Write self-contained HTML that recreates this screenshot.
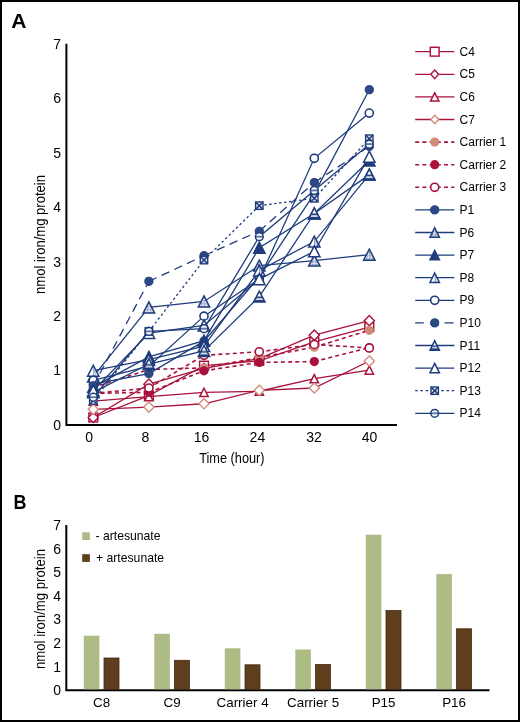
<!DOCTYPE html>
<html><head><meta charset="utf-8"><style>
html,body{margin:0;padding:0;background:#fff;}
body{width:520px;height:722px;overflow:hidden;}
svg{display:block;will-change:transform;}
text{font-family:"Liberation Sans",sans-serif;fill:#000;}
</style></head><body>
<svg width="520" height="722" viewBox="0 0 520 722">
<defs>
<pattern id="hatch" width="1.5" height="1.5" patternUnits="userSpaceOnUse"><rect width="1.5" height="1.5" fill="#dde2ec"/><rect width="0.75" height="0.75" fill="#5d6f9a"/></pattern>
<pattern id="vstr" width="1" height="1" patternContentUnits="objectBoundingBox"><rect width="1" height="1" fill="#fff"/><rect x="0.5" width="0.1" height="1" fill="#6f84b0"/><rect x="0.68" width="0.08" height="1" fill="#b0bdd6"/></pattern>
<pattern id="hstr" width="1" height="1" patternContentUnits="objectBoundingBox"><rect width="1" height="1" fill="#fff"/><rect y="0.5" width="1" height="0.16" fill="#1f3d7c"/><rect y="0.8" width="1" height="0.2" fill="#1f3d7c"/></pattern>
<pattern id="hstr2" width="1" height="1" patternContentUnits="objectBoundingBox"><rect width="1" height="1" fill="#fff"/><rect y="0.4" width="1" height="0.2" fill="#3a5590"/></pattern>
<pattern id="xpat" width="8.4" height="8.4" patternUnits="objectBoundingBox"><rect width="9" height="9" fill="#1f3d7c"/></pattern>
</defs>
<rect x="0" y="0" width="520" height="722" fill="#fff"/>
<rect x="1" y="1" width="518" height="720" fill="none" stroke="#000" stroke-width="2"/>

<text x="11.3" y="27.6" font-size="20" font-weight="bold" style="fill:#000" textLength="15.2" lengthAdjust="spacingAndGlyphs">A</text>
<text x="13.6" y="508.9" font-size="20" font-weight="bold" style="fill:#000" textLength="13" lengthAdjust="spacingAndGlyphs">B</text>
<path d="M66.4 43.8V425.1H397" fill="none" stroke="#000" stroke-width="2"/>
<text x="61" y="429.80" font-size="14" text-anchor="end">0</text>
<text x="61" y="375.37" font-size="14" text-anchor="end">1</text>
<text x="61" y="320.94" font-size="14" text-anchor="end">2</text>
<text x="61" y="266.51" font-size="14" text-anchor="end">3</text>
<text x="61" y="212.08" font-size="14" text-anchor="end">4</text>
<text x="61" y="157.65" font-size="14" text-anchor="end">5</text>
<text x="61" y="103.22" font-size="14" text-anchor="end">6</text>
<text x="61" y="48.79" font-size="14" text-anchor="end">7</text>
<text x="89.1" y="441.8" font-size="14" text-anchor="middle">0</text>
<text x="145.3" y="441.8" font-size="14" text-anchor="middle">8</text>
<text x="201.6" y="441.8" font-size="14" text-anchor="middle">16</text>
<text x="257.4" y="441.8" font-size="14" text-anchor="middle">24</text>
<text x="314.0" y="441.8" font-size="14" text-anchor="middle">32</text>
<text x="369.5" y="441.8" font-size="14" text-anchor="middle">40</text>
<text x="199.2" y="463.4" font-size="15.5" textLength="65.4" lengthAdjust="spacingAndGlyphs">Time (hour)</text>
<text transform="translate(45.2,294) rotate(-90)" font-size="14.5" textLength="119" lengthAdjust="spacingAndGlyphs">nmol iron/mg protein</text>
<polyline points="93.30,417.49 148.90,395.61 204.00,365.67 259.30,360.77 314.30,341.99 369.30,327.03" fill="none" stroke="#a8123c" stroke-width="1.3"/>
<rect x="88.90" y="413.09" width="8.8" height="8.8" fill="#fff" stroke="#a8123c" stroke-width="1.45"/>
<rect x="144.50" y="391.21" width="8.8" height="8.8" fill="#fff" stroke="#a8123c" stroke-width="1.45"/>
<rect x="199.60" y="361.27" width="8.8" height="8.8" fill="#fff" stroke="#a8123c" stroke-width="1.45"/>
<rect x="254.90" y="356.37" width="8.8" height="8.8" fill="#fff" stroke="#a8123c" stroke-width="1.45"/>
<rect x="309.90" y="337.59" width="8.8" height="8.8" fill="#fff" stroke="#a8123c" stroke-width="1.45"/>
<rect x="364.90" y="322.63" width="8.8" height="8.8" fill="#fff" stroke="#a8123c" stroke-width="1.45"/>
<polyline points="93.30,417.49 148.90,384.18 204.00,368.39 259.30,358.60 314.30,335.19 369.30,320.71" fill="none" stroke="#a8123c" stroke-width="1.3"/>
<path d="M93.30 412.39L98.40 417.49L93.30 422.59L88.20 417.49Z" fill="#fff" stroke="#a8123c" stroke-width="1.4"/>
<path d="M148.90 379.08L154.00 384.18L148.90 389.28L143.80 384.18Z" fill="#fff" stroke="#a8123c" stroke-width="1.4"/>
<path d="M204.00 363.29L209.10 368.39L204.00 373.49L198.90 368.39Z" fill="#fff" stroke="#a8123c" stroke-width="1.4"/>
<path d="M259.30 353.50L264.40 358.60L259.30 363.70L254.20 358.60Z" fill="#fff" stroke="#a8123c" stroke-width="1.4"/>
<path d="M314.30 330.09L319.40 335.19L314.30 340.29L309.20 335.19Z" fill="#fff" stroke="#a8123c" stroke-width="1.4"/>
<path d="M369.30 315.61L374.40 320.71L369.30 325.81L364.20 320.71Z" fill="#fff" stroke="#a8123c" stroke-width="1.4"/>
<polyline points="93.30,401.05 148.90,396.70 204.00,392.34 259.30,391.25 314.30,378.73 369.30,370.03" fill="none" stroke="#a8123c" stroke-width="1.3"/>
<path d="M93.30 396.95L97.50 405.15L89.10 405.15Z" fill="#fff" stroke="#a8123c" stroke-width="1.5" stroke-linejoin="miter"/>
<path d="M148.90 392.60L153.10 400.80L144.70 400.80Z" fill="#fff" stroke="#a8123c" stroke-width="1.5" stroke-linejoin="miter"/>
<path d="M204.00 388.24L208.20 396.44L199.80 396.44Z" fill="#fff" stroke="#a8123c" stroke-width="1.5" stroke-linejoin="miter"/>
<path d="M259.30 387.15L263.50 395.35L255.10 395.35Z" fill="#fff" stroke="#a8123c" stroke-width="1.5" stroke-linejoin="miter"/>
<path d="M314.30 374.63L318.50 382.83L310.10 382.83Z" fill="#fff" stroke="#a8123c" stroke-width="1.5" stroke-linejoin="miter"/>
<path d="M369.30 365.93L373.50 374.13L365.10 374.13Z" fill="#fff" stroke="#a8123c" stroke-width="1.5" stroke-linejoin="miter"/>
<polyline points="93.30,409.32 148.90,407.04 204.00,403.77 259.30,390.38 314.30,387.99 369.30,361.04" fill="none" stroke="#a8123c" stroke-width="1.3"/>
<path d="M93.30 404.22L98.40 409.32L93.30 414.42L88.20 409.32Z" fill="#fff" stroke="#d08c7b" stroke-width="1.4"/>
<path d="M148.90 401.94L154.00 407.04L148.90 412.14L143.80 407.04Z" fill="#fff" stroke="#d08c7b" stroke-width="1.4"/>
<path d="M204.00 398.67L209.10 403.77L204.00 408.87L198.90 403.77Z" fill="#fff" stroke="#d08c7b" stroke-width="1.4"/>
<path d="M259.30 385.28L264.40 390.38L259.30 395.48L254.20 390.38Z" fill="#fff" stroke="#d08c7b" stroke-width="1.4"/>
<path d="M314.30 382.89L319.40 387.99L314.30 393.09L309.20 387.99Z" fill="#fff" stroke="#d08c7b" stroke-width="1.4"/>
<path d="M369.30 355.94L374.40 361.04L369.30 366.14L364.20 361.04Z" fill="#fff" stroke="#d08c7b" stroke-width="1.4"/>
<line x1="93.30" y1="387.44" x2="148.90" y2="369.48" stroke="#a8123c" stroke-width="1.6" stroke-dasharray="4 3.2"/><line x1="148.90" y1="369.48" x2="204.00" y2="367.85" stroke="#a8123c" stroke-width="1.6" stroke-dasharray="4 3.2"/><line x1="204.00" y1="367.85" x2="259.30" y2="357.51" stroke="#a8123c" stroke-width="1.6" stroke-dasharray="4 3.2"/><line x1="259.30" y1="357.51" x2="314.30" y2="347.17" stroke="#a8123c" stroke-width="1.6" stroke-dasharray="4 3.2"/><line x1="314.30" y1="347.17" x2="369.30" y2="330.29" stroke="#a8123c" stroke-width="1.6" stroke-dasharray="4 3.2"/>
<circle cx="93.30" cy="387.44" r="4.6" fill="#d08c7b"/>
<circle cx="148.90" cy="369.48" r="4.6" fill="#d08c7b"/>
<circle cx="204.00" cy="367.85" r="4.6" fill="#d08c7b"/>
<circle cx="259.30" cy="357.51" r="4.6" fill="#d08c7b"/>
<circle cx="314.30" cy="347.17" r="4.6" fill="#d08c7b"/>
<circle cx="369.30" cy="330.29" r="4.6" fill="#d08c7b"/>
<line x1="93.30" y1="393.43" x2="148.90" y2="392.34" stroke="#a8123c" stroke-width="1.6" stroke-dasharray="4 3.2"/><line x1="148.90" y1="392.34" x2="204.00" y2="370.79" stroke="#a8123c" stroke-width="1.6" stroke-dasharray="4 3.2"/><line x1="204.00" y1="370.79" x2="259.30" y2="362.41" stroke="#a8123c" stroke-width="1.6" stroke-dasharray="4 3.2"/><line x1="259.30" y1="362.41" x2="314.30" y2="361.59" stroke="#a8123c" stroke-width="1.6" stroke-dasharray="4 3.2"/><line x1="314.30" y1="361.59" x2="369.30" y2="347.71" stroke="#a8123c" stroke-width="1.6" stroke-dasharray="4 3.2"/>
<circle cx="93.30" cy="393.43" r="4.6" fill="#a8123c"/>
<circle cx="148.90" cy="392.34" r="4.6" fill="#a8123c"/>
<circle cx="204.00" cy="370.79" r="4.6" fill="#a8123c"/>
<circle cx="259.30" cy="362.41" r="4.6" fill="#a8123c"/>
<circle cx="314.30" cy="361.59" r="4.6" fill="#a8123c"/>
<circle cx="369.30" cy="347.71" r="4.6" fill="#a8123c"/>
<line x1="93.30" y1="393.43" x2="148.90" y2="387.99" stroke="#a8123c" stroke-width="1.6" stroke-dasharray="4 3.2"/><line x1="148.90" y1="387.99" x2="204.00" y2="355.33" stroke="#a8123c" stroke-width="1.6" stroke-dasharray="4 3.2"/><line x1="204.00" y1="355.33" x2="259.30" y2="351.79" stroke="#a8123c" stroke-width="1.6" stroke-dasharray="4 3.2"/><line x1="259.30" y1="351.79" x2="314.30" y2="344.44" stroke="#a8123c" stroke-width="1.6" stroke-dasharray="4 3.2"/><line x1="314.30" y1="344.44" x2="369.30" y2="347.98" stroke="#a8123c" stroke-width="1.6" stroke-dasharray="4 3.2"/>
<circle cx="93.30" cy="393.43" r="4.05" fill="#fff" stroke="#a8123c" stroke-width="1.6"/>
<circle cx="148.90" cy="387.99" r="4.05" fill="#fff" stroke="#a8123c" stroke-width="1.6"/>
<circle cx="204.00" cy="355.33" r="4.05" fill="#fff" stroke="#a8123c" stroke-width="1.6"/>
<circle cx="259.30" cy="351.79" r="4.05" fill="#fff" stroke="#a8123c" stroke-width="1.6"/>
<circle cx="314.30" cy="344.44" r="4.05" fill="#fff" stroke="#a8123c" stroke-width="1.6"/>
<circle cx="369.30" cy="347.98" r="4.05" fill="#fff" stroke="#a8123c" stroke-width="1.6"/>
<polyline points="93.30,384.18 148.90,373.56 204.00,341.18 259.30,276.95 314.30,193.67 369.30,89.71" fill="none" stroke="#1f3d7c" stroke-width="1.3"/>
<circle cx="93.30" cy="384.18" r="4.1" fill="#2b4985" stroke="#1f3d7c" stroke-width="1"/>
<circle cx="148.90" cy="373.56" r="4.1" fill="#2b4985" stroke="#1f3d7c" stroke-width="1"/>
<circle cx="204.00" cy="341.18" r="4.1" fill="#2b4985" stroke="#1f3d7c" stroke-width="1"/>
<circle cx="259.30" cy="276.95" r="4.1" fill="#2b4985" stroke="#1f3d7c" stroke-width="1"/>
<circle cx="314.30" cy="193.67" r="4.1" fill="#2b4985" stroke="#1f3d7c" stroke-width="1"/>
<circle cx="369.30" cy="89.71" r="4.1" fill="#2b4985" stroke="#1f3d7c" stroke-width="1"/>
<polyline points="93.30,376.56 148.90,307.43 204.00,301.44 259.30,265.52 314.30,260.62 369.30,254.63" fill="none" stroke="#1f3d7c" stroke-width="1.3"/>
<path d="M93.30 371.06L99.00 382.06L87.60 382.06Z" fill="url(#hatch)" stroke="#1f3d7c" stroke-width="1.5" stroke-linejoin="miter"/>
<path d="M148.90 301.93L154.60 312.93L143.20 312.93Z" fill="url(#hatch)" stroke="#1f3d7c" stroke-width="1.5" stroke-linejoin="miter"/>
<path d="M204.00 295.94L209.70 306.94L198.30 306.94Z" fill="url(#hatch)" stroke="#1f3d7c" stroke-width="1.5" stroke-linejoin="miter"/>
<path d="M259.30 260.02L265.00 271.02L253.60 271.02Z" fill="url(#hatch)" stroke="#1f3d7c" stroke-width="1.5" stroke-linejoin="miter"/>
<path d="M314.30 255.12L320.00 266.12L308.60 266.12Z" fill="url(#hatch)" stroke="#1f3d7c" stroke-width="1.5" stroke-linejoin="miter"/>
<path d="M369.30 249.13L375.00 260.13L363.60 260.13Z" fill="url(#hatch)" stroke="#1f3d7c" stroke-width="1.5" stroke-linejoin="miter"/>
<polyline points="93.30,386.90 148.90,356.96 204.00,340.63 259.30,247.72 314.30,213.49 369.30,160.47" fill="none" stroke="#1f3d7c" stroke-width="1.3"/>
<path d="M93.30 381.40L99.00 392.40L87.60 392.40Z" fill="#1f3d7c" stroke="#1f3d7c" stroke-width="1.5" stroke-linejoin="miter"/>
<path d="M148.90 351.46L154.60 362.46L143.20 362.46Z" fill="#1f3d7c" stroke="#1f3d7c" stroke-width="1.5" stroke-linejoin="miter"/>
<path d="M204.00 335.13L209.70 346.13L198.30 346.13Z" fill="#1f3d7c" stroke="#1f3d7c" stroke-width="1.5" stroke-linejoin="miter"/>
<path d="M259.30 242.22L265.00 253.22L253.60 253.22Z" fill="#1f3d7c" stroke="#1f3d7c" stroke-width="1.5" stroke-linejoin="miter"/>
<path d="M314.30 207.99L320.00 218.99L308.60 218.99Z" fill="#1f3d7c" stroke="#1f3d7c" stroke-width="1.5" stroke-linejoin="miter"/>
<path d="M369.30 154.97L375.00 165.97L363.60 165.97Z" fill="#1f3d7c" stroke="#1f3d7c" stroke-width="1.5" stroke-linejoin="miter"/>
<polyline points="93.30,370.73 148.90,359.68 204.00,346.08 259.30,270.42 314.30,241.57 369.30,174.62" fill="none" stroke="#1f3d7c" stroke-width="1.3"/>
<path d="M93.30 365.23L99.00 376.23L87.60 376.23Z" fill="url(#vstr)" stroke="#1f3d7c" stroke-width="1.5" stroke-linejoin="miter"/>
<path d="M148.90 354.18L154.60 365.18L143.20 365.18Z" fill="url(#vstr)" stroke="#1f3d7c" stroke-width="1.5" stroke-linejoin="miter"/>
<path d="M204.00 340.58L209.70 351.58L198.30 351.58Z" fill="url(#vstr)" stroke="#1f3d7c" stroke-width="1.5" stroke-linejoin="miter"/>
<path d="M259.30 264.92L265.00 275.92L253.60 275.92Z" fill="url(#vstr)" stroke="#1f3d7c" stroke-width="1.5" stroke-linejoin="miter"/>
<path d="M314.30 236.07L320.00 247.07L308.60 247.07Z" fill="url(#vstr)" stroke="#1f3d7c" stroke-width="1.5" stroke-linejoin="miter"/>
<path d="M369.30 169.12L375.00 180.12L363.60 180.12Z" fill="url(#vstr)" stroke="#1f3d7c" stroke-width="1.5" stroke-linejoin="miter"/>
<polyline points="93.30,380.37 148.90,366.22 204.00,316.14 259.30,279.13 314.30,158.29 369.30,113.12" fill="none" stroke="#1f3d7c" stroke-width="1.3"/>
<circle cx="93.30" cy="380.37" r="4.05" fill="#fff" stroke="#1f3d7c" stroke-width="1.6"/>
<circle cx="148.90" cy="366.22" r="4.05" fill="#fff" stroke="#1f3d7c" stroke-width="1.6"/>
<circle cx="204.00" cy="316.14" r="4.05" fill="#fff" stroke="#1f3d7c" stroke-width="1.6"/>
<circle cx="259.30" cy="279.13" r="4.05" fill="#fff" stroke="#1f3d7c" stroke-width="1.6"/>
<circle cx="314.30" cy="158.29" r="4.05" fill="#fff" stroke="#1f3d7c" stroke-width="1.6"/>
<circle cx="369.30" cy="113.12" r="4.05" fill="#fff" stroke="#1f3d7c" stroke-width="1.6"/>
<line x1="93.30" y1="385.81" x2="148.90" y2="281.30" stroke="#1f3d7c" stroke-width="1.3" stroke-dasharray="8.5 5.5"/><line x1="148.90" y1="281.30" x2="204.00" y2="255.72" stroke="#1f3d7c" stroke-width="1.3" stroke-dasharray="8.5 5.5"/><line x1="204.00" y1="255.72" x2="259.30" y2="231.23" stroke="#1f3d7c" stroke-width="1.3" stroke-dasharray="8.5 5.5"/><line x1="259.30" y1="231.23" x2="314.30" y2="182.51" stroke="#1f3d7c" stroke-width="1.3" stroke-dasharray="8.5 5.5"/><line x1="314.30" y1="182.51" x2="369.30" y2="146.32" stroke="#1f3d7c" stroke-width="1.3" stroke-dasharray="8.5 5.5"/>
<circle cx="93.30" cy="385.81" r="4.1" fill="#2b4985" stroke="#1f3d7c" stroke-width="1"/>
<circle cx="148.90" cy="281.30" r="4.1" fill="#2b4985" stroke="#1f3d7c" stroke-width="1"/>
<circle cx="204.00" cy="255.72" r="4.1" fill="#2b4985" stroke="#1f3d7c" stroke-width="1"/>
<circle cx="259.30" cy="231.23" r="4.1" fill="#2b4985" stroke="#1f3d7c" stroke-width="1"/>
<circle cx="314.30" cy="182.51" r="4.1" fill="#2b4985" stroke="#1f3d7c" stroke-width="1"/>
<circle cx="369.30" cy="146.32" r="4.1" fill="#2b4985" stroke="#1f3d7c" stroke-width="1"/>
<polyline points="93.30,392.34 148.90,364.04 204.00,350.98 259.30,296.55 314.30,213.49 369.30,174.62" fill="none" stroke="#1f3d7c" stroke-width="1.3"/>
<path d="M93.30 386.84L99.00 397.84L87.60 397.84Z" fill="url(#hstr)" stroke="#1f3d7c" stroke-width="1.5" stroke-linejoin="miter"/>
<path d="M148.90 358.54L154.60 369.54L143.20 369.54Z" fill="url(#hstr)" stroke="#1f3d7c" stroke-width="1.5" stroke-linejoin="miter"/>
<path d="M204.00 345.48L209.70 356.48L198.30 356.48Z" fill="url(#hstr)" stroke="#1f3d7c" stroke-width="1.5" stroke-linejoin="miter"/>
<path d="M259.30 291.05L265.00 302.05L253.60 302.05Z" fill="url(#hstr)" stroke="#1f3d7c" stroke-width="1.5" stroke-linejoin="miter"/>
<path d="M314.30 207.99L320.00 218.99L308.60 218.99Z" fill="url(#hstr)" stroke="#1f3d7c" stroke-width="1.5" stroke-linejoin="miter"/>
<path d="M369.30 169.12L375.00 180.12L363.60 180.12Z" fill="url(#hstr)" stroke="#1f3d7c" stroke-width="1.5" stroke-linejoin="miter"/>
<polyline points="93.30,390.71 148.90,333.01 204.00,325.39 259.30,279.13 314.30,251.37 369.30,156.66" fill="none" stroke="#1f3d7c" stroke-width="1.3"/>
<path d="M93.30 385.21L99.00 396.21L87.60 396.21Z" fill="#fff" stroke="#1f3d7c" stroke-width="1.5" stroke-linejoin="miter"/>
<path d="M148.90 327.51L154.60 338.51L143.20 338.51Z" fill="#fff" stroke="#1f3d7c" stroke-width="1.5" stroke-linejoin="miter"/>
<path d="M204.00 319.89L209.70 330.89L198.30 330.89Z" fill="#fff" stroke="#1f3d7c" stroke-width="1.5" stroke-linejoin="miter"/>
<path d="M259.30 273.63L265.00 284.63L253.60 284.63Z" fill="#fff" stroke="#1f3d7c" stroke-width="1.5" stroke-linejoin="miter"/>
<path d="M314.30 245.87L320.00 256.87L308.60 256.87Z" fill="#fff" stroke="#1f3d7c" stroke-width="1.5" stroke-linejoin="miter"/>
<path d="M369.30 151.16L375.00 162.16L363.60 162.16Z" fill="#fff" stroke="#1f3d7c" stroke-width="1.5" stroke-linejoin="miter"/>
<line x1="93.30" y1="400.51" x2="148.90" y2="331.38" stroke="#1f3d7c" stroke-width="1.3" stroke-dasharray="2.4 2.6"/><line x1="148.90" y1="331.38" x2="204.00" y2="260.08" stroke="#1f3d7c" stroke-width="1.3" stroke-dasharray="2.4 2.6"/><line x1="204.00" y1="260.08" x2="259.30" y2="205.65" stroke="#1f3d7c" stroke-width="1.3" stroke-dasharray="2.4 2.6"/><line x1="259.30" y1="205.65" x2="314.30" y2="198.30" stroke="#1f3d7c" stroke-width="1.3" stroke-dasharray="2.4 2.6"/><line x1="314.30" y1="198.30" x2="369.30" y2="138.70" stroke="#1f3d7c" stroke-width="1.3" stroke-dasharray="2.4 2.6"/>
<rect x="89.60" y="396.81" width="7.4" height="7.4" fill="#e2e6ef" stroke="#1f3d7c" stroke-width="1.4"/><path d="M89.60 396.81L97.00 404.21M97.00 396.81L89.60 404.21" stroke="#1f3d7c" stroke-width="1.5"/>
<rect x="145.20" y="327.68" width="7.4" height="7.4" fill="#e2e6ef" stroke="#1f3d7c" stroke-width="1.4"/><path d="M145.20 327.68L152.60 335.08M152.60 327.68L145.20 335.08" stroke="#1f3d7c" stroke-width="1.5"/>
<rect x="200.30" y="256.38" width="7.4" height="7.4" fill="#e2e6ef" stroke="#1f3d7c" stroke-width="1.4"/><path d="M200.30 256.38L207.70 263.78M207.70 256.38L200.30 263.78" stroke="#1f3d7c" stroke-width="1.5"/>
<rect x="255.60" y="201.95" width="7.4" height="7.4" fill="#e2e6ef" stroke="#1f3d7c" stroke-width="1.4"/><path d="M255.60 201.95L263.00 209.35M263.00 201.95L255.60 209.35" stroke="#1f3d7c" stroke-width="1.5"/>
<rect x="310.60" y="194.60" width="7.4" height="7.4" fill="#e2e6ef" stroke="#1f3d7c" stroke-width="1.4"/><path d="M310.60 194.60L318.00 202.00M318.00 194.60L310.60 202.00" stroke="#1f3d7c" stroke-width="1.5"/>
<rect x="365.60" y="135.00" width="7.4" height="7.4" fill="#e2e6ef" stroke="#1f3d7c" stroke-width="1.4"/><path d="M365.60 135.00L373.00 142.40M373.00 135.00L365.60 142.40" stroke="#1f3d7c" stroke-width="1.5"/>
<polyline points="93.30,397.24 148.90,331.38 204.00,328.66 259.30,236.67 314.30,190.41 369.30,144.14" fill="none" stroke="#1f3d7c" stroke-width="1.3"/>
<circle cx="93.30" cy="397.24" r="3.9" fill="url(#hstr2)" stroke="#1f3d7c" stroke-width="1.5"/>
<circle cx="148.90" cy="331.38" r="3.9" fill="url(#hstr2)" stroke="#1f3d7c" stroke-width="1.5"/>
<circle cx="204.00" cy="328.66" r="3.9" fill="url(#hstr2)" stroke="#1f3d7c" stroke-width="1.5"/>
<circle cx="259.30" cy="236.67" r="3.9" fill="url(#hstr2)" stroke="#1f3d7c" stroke-width="1.5"/>
<circle cx="314.30" cy="190.41" r="3.9" fill="url(#hstr2)" stroke="#1f3d7c" stroke-width="1.5"/>
<circle cx="369.30" cy="144.14" r="3.9" fill="url(#hstr2)" stroke="#1f3d7c" stroke-width="1.5"/>
<line x1="415.2" y1="51.70" x2="454.4" y2="51.70" stroke="#a8123c" stroke-width="1.3"/>
<rect x="430.30" y="47.30" width="8.8" height="8.8" fill="#fff" stroke="#a8123c" stroke-width="1.45"/>
<text x="459.6" y="55.80" font-size="12">C4</text>
<line x1="415.2" y1="74.30" x2="454.4" y2="74.30" stroke="#a8123c" stroke-width="1.3"/>
<path d="M434.70 70.00L438.60 74.30L434.70 78.60L430.80 74.30Z" fill="#fff" stroke="#a8123c" stroke-width="1.4"/>
<text x="459.6" y="78.40" font-size="12">C5</text>
<line x1="415.2" y1="96.90" x2="454.4" y2="96.90" stroke="#a8123c" stroke-width="1.3"/>
<path d="M434.70 92.80L438.90 101.00L430.50 101.00Z" fill="#fff" stroke="#a8123c" stroke-width="1.5" stroke-linejoin="miter"/>
<text x="459.6" y="101.00" font-size="12">C6</text>
<line x1="415.2" y1="119.50" x2="454.4" y2="119.50" stroke="#a8123c" stroke-width="1.3"/>
<path d="M434.70 115.20L438.60 119.50L434.70 123.80L430.80 119.50Z" fill="#fff" stroke="#d08c7b" stroke-width="1.4"/>
<text x="459.6" y="123.60" font-size="12">C7</text>
<line x1="415.2" y1="142.10" x2="454.4" y2="142.10" stroke="#a8123c" stroke-width="1.6" stroke-dasharray="4 3.2"/>
<circle cx="434.70" cy="142.10" r="4.6" fill="#d08c7b"/>
<text x="459.6" y="146.20" font-size="12">Carrier 1</text>
<line x1="415.2" y1="164.70" x2="454.4" y2="164.70" stroke="#a8123c" stroke-width="1.6" stroke-dasharray="4 3.2"/>
<circle cx="434.70" cy="164.70" r="4.6" fill="#a8123c"/>
<text x="459.6" y="168.80" font-size="12">Carrier 2</text>
<line x1="415.2" y1="187.30" x2="454.4" y2="187.30" stroke="#a8123c" stroke-width="1.6" stroke-dasharray="4 3.2"/>
<circle cx="434.70" cy="187.30" r="4.05" fill="#fff" stroke="#a8123c" stroke-width="1.6"/>
<text x="459.6" y="191.40" font-size="12">Carrier 3</text>
<line x1="415.2" y1="209.90" x2="454.4" y2="209.90" stroke="#1f3d7c" stroke-width="1.3"/>
<circle cx="434.70" cy="209.90" r="4.1" fill="#2b4985" stroke="#1f3d7c" stroke-width="1"/>
<text x="459.6" y="214.00" font-size="12">P1</text>
<line x1="415.2" y1="232.50" x2="454.4" y2="232.50" stroke="#1f3d7c" stroke-width="1.3"/>
<path d="M434.70 227.80L439.40 237.20L430.00 237.20Z" fill="url(#hatch)" stroke="#1f3d7c" stroke-width="1.5" stroke-linejoin="miter"/>
<text x="459.6" y="236.60" font-size="12">P6</text>
<line x1="415.2" y1="255.10" x2="454.4" y2="255.10" stroke="#1f3d7c" stroke-width="1.3"/>
<path d="M434.70 250.40L439.40 259.80L430.00 259.80Z" fill="#1f3d7c" stroke="#1f3d7c" stroke-width="1.5" stroke-linejoin="miter"/>
<text x="459.6" y="259.20" font-size="12">P7</text>
<line x1="415.2" y1="277.70" x2="454.4" y2="277.70" stroke="#1f3d7c" stroke-width="1.3"/>
<path d="M434.70 273.00L439.40 282.40L430.00 282.40Z" fill="url(#vstr)" stroke="#1f3d7c" stroke-width="1.5" stroke-linejoin="miter"/>
<text x="459.6" y="281.80" font-size="12">P8</text>
<line x1="415.2" y1="300.30" x2="454.4" y2="300.30" stroke="#1f3d7c" stroke-width="1.3"/>
<circle cx="434.70" cy="300.30" r="4.05" fill="#fff" stroke="#1f3d7c" stroke-width="1.6"/>
<text x="459.6" y="304.40" font-size="12">P9</text>
<path d="M415.2 322.90H423.8M444.6 322.90H453.6" stroke="#1f3d7c" stroke-width="1.3"/>
<circle cx="434.70" cy="322.90" r="4.1" fill="#2b4985" stroke="#1f3d7c" stroke-width="1"/>
<text x="459.6" y="327.00" font-size="12">P10</text>
<line x1="415.2" y1="345.50" x2="454.4" y2="345.50" stroke="#1f3d7c" stroke-width="1.3"/>
<path d="M434.70 340.80L439.40 350.20L430.00 350.20Z" fill="url(#hstr)" stroke="#1f3d7c" stroke-width="1.5" stroke-linejoin="miter"/>
<text x="459.6" y="349.60" font-size="12">P11</text>
<line x1="415.2" y1="368.10" x2="454.4" y2="368.10" stroke="#1f3d7c" stroke-width="1.3"/>
<path d="M434.70 363.40L439.40 372.80L430.00 372.80Z" fill="#fff" stroke="#1f3d7c" stroke-width="1.5" stroke-linejoin="miter"/>
<text x="459.6" y="372.20" font-size="12">P12</text>
<path d="M415.2 390.70H417.8M420.4 390.70H423M425.6 390.70H428.2M441.2 390.70H443.8M446.4 390.70H449M451.6 390.70H454.2" stroke="#1f3d7c" stroke-width="1.3"/>
<rect x="431.00" y="387.00" width="7.4" height="7.4" fill="#e2e6ef" stroke="#1f3d7c" stroke-width="1.4"/><path d="M431.00 387.00L438.40 394.40M438.40 387.00L431.00 394.40" stroke="#1f3d7c" stroke-width="1.5"/>
<text x="459.6" y="394.80" font-size="12">P13</text>
<line x1="415.2" y1="413.30" x2="454.4" y2="413.30" stroke="#1f3d7c" stroke-width="1.3"/>
<circle cx="434.70" cy="413.30" r="3.9" fill="url(#hstr2)" stroke="#1f3d7c" stroke-width="1.5"/>
<text x="459.6" y="417.40" font-size="12">P14</text>
<path d="M66.3 525V690.3H489.5" fill="none" stroke="#000" stroke-width="2"/>
<text x="61" y="695.10" font-size="14" text-anchor="end">0</text>
<text x="61" y="671.50" font-size="14" text-anchor="end">1</text>
<text x="61" y="647.90" font-size="14" text-anchor="end">2</text>
<text x="61" y="624.30" font-size="14" text-anchor="end">3</text>
<text x="61" y="600.70" font-size="14" text-anchor="end">4</text>
<text x="61" y="577.10" font-size="14" text-anchor="end">5</text>
<text x="61" y="553.50" font-size="14" text-anchor="end">6</text>
<text x="61" y="529.90" font-size="14" text-anchor="end">7</text>
<text transform="translate(45.0,669) rotate(-90)" font-size="14.5" textLength="120" lengthAdjust="spacingAndGlyphs">nmol iron/mg protein</text>
<rect x="83.80" y="635.70" width="15.6" height="53.60" fill="#adbb84"/>
<rect x="104.00" y="658.00" width="15.0" height="31.30" fill="#5e3e1c" stroke="#43290f" stroke-width="0.8"/>
<text x="101.60" y="707.2" font-size="13.4" text-anchor="middle">C8</text>
<rect x="154.30" y="633.80" width="15.6" height="55.50" fill="#adbb84"/>
<rect x="174.50" y="660.30" width="15.0" height="29.00" fill="#5e3e1c" stroke="#43290f" stroke-width="0.8"/>
<text x="172.10" y="707.2" font-size="13.4" text-anchor="middle">C9</text>
<rect x="224.80" y="648.30" width="15.6" height="41.00" fill="#adbb84"/>
<rect x="245.00" y="664.80" width="15.0" height="24.50" fill="#5e3e1c" stroke="#43290f" stroke-width="0.8"/>
<text x="242.60" y="707.2" font-size="13.4" text-anchor="middle">Carrier 4</text>
<rect x="295.30" y="649.50" width="15.6" height="39.80" fill="#adbb84"/>
<rect x="315.50" y="664.40" width="15.0" height="24.90" fill="#5e3e1c" stroke="#43290f" stroke-width="0.8"/>
<text x="313.10" y="707.2" font-size="13.4" text-anchor="middle">Carrier 5</text>
<rect x="365.80" y="534.70" width="15.6" height="154.60" fill="#adbb84"/>
<rect x="386.00" y="610.60" width="15.0" height="78.70" fill="#5e3e1c" stroke="#43290f" stroke-width="0.8"/>
<text x="383.60" y="707.2" font-size="13.4" text-anchor="middle">P15</text>
<rect x="436.30" y="574.10" width="15.6" height="115.20" fill="#adbb84"/>
<rect x="456.50" y="628.80" width="15.0" height="60.50" fill="#5e3e1c" stroke="#43290f" stroke-width="0.8"/>
<text x="454.10" y="707.2" font-size="13.4" text-anchor="middle">P16</text>
<rect x="82.2" y="532.3" width="7.7" height="7.7" fill="#adbb84"/>
<rect x="82.2" y="554.2" width="7.7" height="7.7" fill="#5e3e1c"/>
<text x="95.5" y="540" font-size="12.2">- artesunate</text>
<text x="96" y="561.9" font-size="12.2">+ artesunate</text>
</svg></body></html>
